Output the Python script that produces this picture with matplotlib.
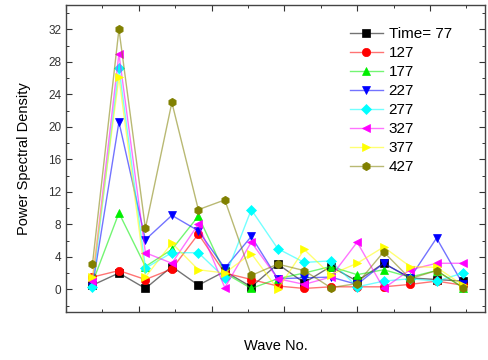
import numpy as np
import matplotlib
matplotlib.use("Agg")
import matplotlib.pyplot as plt
from matplotlib.colors import to_rgba

plt.rcParams['font.family'] = ['Liberation Sans', 'DejaVu Sans']

wave_no = list(range(1, 16))

t77  = [0.5, 2.0, 0.1, 2.8, 0.5, 2.2, 0.3, 3.1, 0.8, 2.8, 1.0, 3.2, 1.4, 1.2, 1.0]
t127 = [1.5, 2.3, 1.2, 2.5, 6.8, 2.0, 1.2, 0.4, 0.1, 0.3, 0.3, 0.3, 0.6, 1.0, 0.5]
t177 = [0.8, 9.4, 2.8, 4.9, 9.0, 2.0, 0.1, 1.3, 2.0, 2.8, 1.8, 2.4, 1.5, 2.3, 0.2]
t227 = [0.3, 20.6, 6.1, 9.1, 7.2, 2.6, 6.5, 1.3, 1.4, 1.5, 0.6, 3.2, 1.4, 6.3, 0.6]
t277 = [0.3, 27.3, 2.6, 4.5, 4.5, 1.4, 9.8, 5.0, 3.3, 3.5, 0.3, 1.0, 1.3, 1.0, 2.0]
t327 = [1.0, 29.0, 4.5, 3.2, 8.0, 0.2, 5.8, 1.3, 0.6, 1.5, 5.8, 0.1, 2.4, 3.2, 3.2]
t377 = [1.5, 26.1, 1.5, 5.7, 2.4, 2.0, 4.4, 0.0, 4.9, 1.8, 3.2, 5.2, 2.8, 2.7, 0.5]
t427 = [3.1, 32.0, 7.5, 23.0, 9.8, 11.0, 1.7, 3.1, 2.3, 0.2, 0.7, 4.6, 1.3, 2.3, 0.2]

series = [t77, t127, t177, t227, t277, t327, t377, t427]
labels = ["Time= 77", "127", "177", "227", "277", "327", "377", "427"]
colors = ['black', 'red', '#00ee00', 'blue', 'cyan', 'magenta', 'yellow', '#808000']
markers = ['s', 'o', '^', 'v', 'D', '<', '>', 'h']

fig = plt.figure(figsize=(4.88, 3.6), dpi=100)
ax = fig.add_axes([66/488, 1 - 312/360, 419/488, 307/360])

for y, lab, c, m in zip(series, labels, colors, markers):
    ms = 4.8 if m == 'D' else 6
    ax.plot(wave_no, y, color=to_rgba(c, 0.55), marker=m, markersize=ms,
            linewidth=1.0, markerfacecolor=c, markeredgecolor=c,
            markeredgewidth=0.5, label=lab)

ax.set_xlim(0, 15.83)
ax.set_ylim(-2.8, 35)
ax.set_xticks(np.arange(0, 15.9, 2.75))
ax.set_xticks(np.arange(0, 15.9, 1.375), minor=True)
ax.set_yticks(np.arange(0, 33, 4))
ax.set_yticks(np.arange(-2, 35, 2), minor=True)
ax.set_xticklabels([])
ax.tick_params(which='both', direction='in', top=True, right=True, labelsize=8.5,
               colors='#333333')
ax.tick_params(which='major', length=4, width=0.8)
ax.tick_params(which='minor', length=2.5, width=0.7)
for s in ax.spines.values():
    s.set_linewidth(1.0)
    s.set_color('#444444')

ax.set_ylabel("Power Spectral Density", fontsize=10.5, labelpad=12)
ax.set_xlabel("Wave No.", fontsize=10.5, labelpad=16)

ax.legend(loc='upper right', bbox_to_anchor=(0.935, 0.948), frameon=False,
          fontsize=11, handlelength=2.2, labelspacing=0.33, handletextpad=0.35,
          borderaxespad=0)

fig.savefig("out.png", dpi=100)
